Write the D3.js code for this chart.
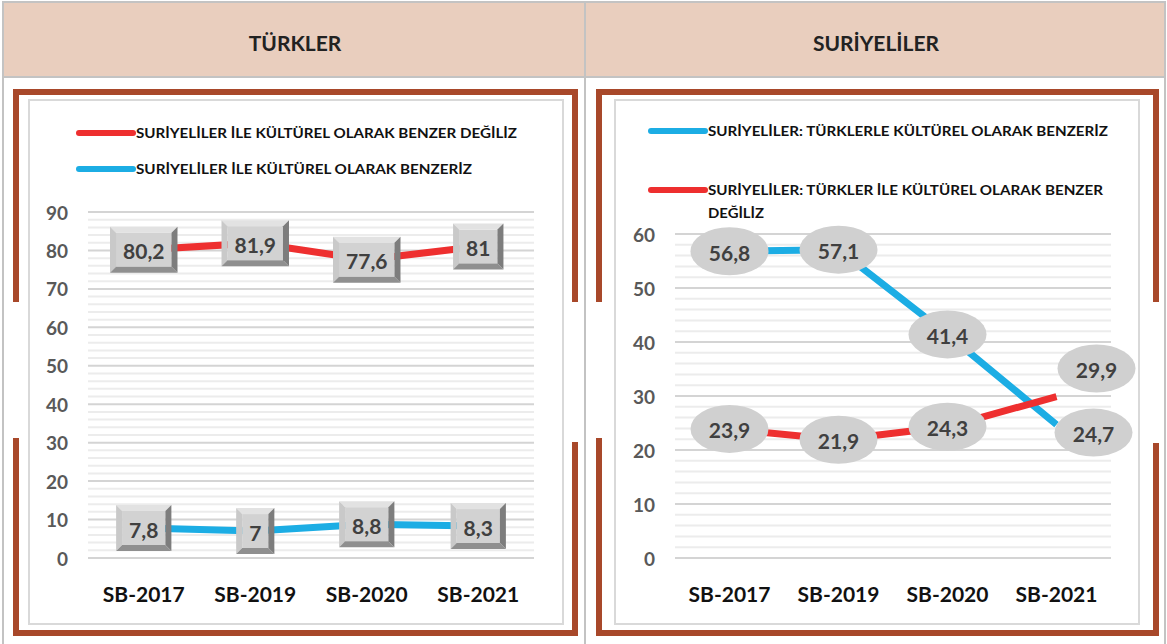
<!DOCTYPE html>
<html>
<head>
<meta charset="utf-8">
<script src="https://cdn.jsdelivr.net/npm/d3@7"></script>
<style>
body { margin: 0; background: #fff; }
svg text { font-family: Lato, "Open Sans", sans-serif; }
</style>
</head>
<body>
<svg width="1167" height="644"></svg>
<script>
// --- data ---
var years = ["SB-2017", "SB-2019", "SB-2020", "SB-2021"];
var trDegiliz = [80.2, 81.9, 77.6, 81];
var trBenzeriz = [7.8, 7, 8.8, 8.3];
var syBenzeriz = [56.8, 57.1, 41.4, 24.7];
var syDegiliz = [23.9, 21.9, 24.3, 29.9];
var trTicks = [0, 10, 20, 30, 40, 50, 60, 70, 80, 90];
var syTicks = [0, 10, 20, 30, 40, 50, 60];
var titles = ["TÜRKLER", "SURİYELİLER"];

var RED = "#ee2f2f", BLUE = "#1cade4", BROWN = "#a8482a";

var svg = d3.select("svg");

// header / table
svg.append("rect").attr("x", 4).attr("y", 3).attr("width", 580).attr("height", 73).attr("fill", "#e9cebe");
svg.append("rect").attr("x", 586).attr("y", 3).attr("width", 578).attr("height", 73).attr("fill", "#e9cebe");
svg.append("rect").attr("x", 3).attr("y", 2).attr("width", 1162).attr("height", 645)
  .attr("fill", "none").attr("stroke", "#c3c3c3").attr("stroke-width", 2);
svg.append("line").attr("x1", 3).attr("x2", 1165).attr("y1", 77).attr("y2", 77).attr("stroke", "#c3c3c3").attr("stroke-width", 2);
svg.append("line").attr("x1", 585).attr("x2", 585).attr("y1", 2).attr("y2", 644).attr("stroke", "#c3c3c3").attr("stroke-width", 2);

svg.selectAll(".title").data(titles).enter().append("text")
  .attr("x", function(d, i) { return i ? 876 : 295; })
  .attr("y", 42)
  .attr("text-anchor", "middle").attr("dominant-baseline", "central")
  .style("font-size", "21px").style("font-weight", "bold").attr("fill", "#222")
  .text(function(d) { return d; });

// brown frames with gaps on the sides
function frame(x0, x1, rightGapEnd, leftGapEnd) {
  var t = 6;
  var pieces = [
    [x0, 89, x1 - x0, t],
    [x0, 89, t, 213],
    [x1 - t, 89, t, 213],
    [x0, leftGapEnd, t, 636 - leftGapEnd],
    [x1 - t, rightGapEnd, t, 636 - rightGapEnd],
    [x0, 630, x1 - x0, t]
  ];
  pieces.forEach(function(p) {
    svg.append("rect").attr("x", p[0]).attr("y", p[1]).attr("width", p[2]).attr("height", p[3]).attr("fill", BROWN);
  });
}
frame(13, 578, 442, 438);
frame(596, 1159, 443, 438);

svg.append("rect").attr("x", 29).attr("y", 100).attr("width", 534).attr("height", 524)
  .attr("fill", "none").attr("stroke", "#d9d9d9").attr("stroke-width", 2);
svg.append("rect").attr("x", 615).attr("y", 100).attr("width", 524).attr("height", 524)
  .attr("fill", "none").attr("stroke", "#d9d9d9").attr("stroke-width", 2);

function fmt(v) { return String(v).replace(".", ","); }

function drawChart(cfg) {
  var g = svg.append("g");
  var x = d3.scalePoint().domain(years).range([cfg.left, cfg.right]).padding(0.5);
  var y = d3.scaleLinear().domain([0, d3.max(cfg.ticks)]).range([558, cfg.top]);

  // minor grid every 2 units
  var minor = d3.range(0, d3.max(cfg.ticks), 2).filter(function(v) { return v % 10 !== 0; });
  g.selectAll(".minor").data(minor).enter().append("line")
    .attr("x1", cfg.left).attr("x2", cfg.right)
    .attr("y1", function(d) { return y(d); }).attr("y2", function(d) { return y(d); })
    .attr("stroke", "#ececec").attr("stroke-width", 2);
  g.selectAll(".major").data(cfg.ticks).enter().append("line")
    .attr("x1", cfg.left).attr("x2", cfg.right)
    .attr("y1", function(d) { return y(d); }).attr("y2", function(d) { return y(d); })
    .attr("stroke", "#d4d4d4").attr("stroke-width", 2);

  g.selectAll(".ytick").data(cfg.ticks).enter().append("text")
    .attr("x", cfg.left - 20).attr("y", function(d) { return y(d); })
    .attr("text-anchor", "end").attr("dominant-baseline", "central")
    .style("font-size", "19px").style("font-weight", "bold").attr("fill", "#595959")
    .text(function(d) { return d; });

  g.selectAll(".xtick").data(years).enter().append("text")
    .attr("x", function(d) { return x(d); }).attr("y", 593)
    .attr("text-anchor", "middle").attr("dominant-baseline", "central")
    .style("font-size", "21px").style("font-weight", "bold").attr("fill", "#111")
    .text(function(d) { return d; });

  // legend
  cfg.series.forEach(function(s) {
    g.append("line").attr("x1", cfg.legX).attr("x2", cfg.legX + 54)
      .attr("y1", s.legY).attr("y2", s.legY)
      .attr("stroke", s.color).attr("stroke-width", 6).attr("stroke-linecap", "round");
    s.legend.forEach(function(l, i) {
      g.append("text").attr("x", cfg.legX + 57).attr("y", s.legY + i * 23)
        .attr("dominant-baseline", "central")
        .attr("textLength", l.w).attr("lengthAdjust", "spacingAndGlyphs")
        .style("font-size", "13.5px").style("font-weight", "bold").attr("fill", "#111")
        .text(l.t);
    });
  });

  var line = d3.line()
    .x(function(d, i) { return x(years[i]); })
    .y(function(d) { return y(d); });

  cfg.series.slice().sort(function(a, b) { return a.z - b.z; }).forEach(function(s) {
    g.append("path").datum(s.values).attr("d", line)
      .attr("fill", "none").attr("stroke", s.color).attr("stroke-width", 7);
  });

  cfg.series.forEach(function(s) {
    s.values.forEach(function(v, i) {
      var nudge = (s.nudge && s.nudge[i]) || [0, 0];
      var cx = x(years[i]) + nudge[0], cy = y(v) + nudge[1];
      var lg = g.append("g");
      var txt = lg.append("text").attr("x", cx).attr("y", cy + 1)
        .attr("text-anchor", "middle").attr("dominant-baseline", "central")
        .style("font-size", "21px").style("font-weight", "bold").attr("fill", "#404040")
        .text(fmt(v));
      if (cfg.shape === "ellipse") {
        lg.insert("ellipse", "text").attr("cx", cx).attr("cy", cy)
          .attr("rx", 39).attr("ry", 24).attr("fill", "#d0d0d0");
      } else {
        var tw = txt.node().getComputedTextLength();
        var w = tw + 26, h = 46, b = 6;
        var x0 = cx - w / 2, y0 = cy - h / 2, x1 = x0 + w, y1 = y0 + h;
        var bevel = [
          { c: "#e2e2e2", p: [[x0, y0], [x1, y0], [x1 - b, y0 + b], [x0 + b, y0 + b]] },
          { c: "#c9c9c9", p: [[x0, y0], [x0 + b, y0 + b], [x0 + b, y1 - b], [x0, y1]] },
          { c: "#7d7d7d", p: [[x1, y0], [x1, y1], [x1 - b, y1 - b], [x1 - b, y0 + b]] },
          { c: "#8f8f8f", p: [[x0, y1], [x0 + b, y1 - b], [x1 - b, y1 - b], [x1, y1]] }
        ];
        lg.insert("rect", "text").attr("x", x0 + b).attr("y", y0 + b)
          .attr("width", w - 2 * b).attr("height", h - 2 * b).attr("fill", "#d2d2d2");
        bevel.forEach(function(bv) {
          lg.insert("polygon", "text").attr("points", bv.p.map(function(q) { return q.join(","); }).join(" "))
            .attr("fill", bv.c);
        });
      }
    });
  });
}

drawChart({
  left: 88, right: 534, top: 212, ticks: trTicks, shape: "box", legX: 79,
  series: [
    { values: trDegiliz, color: RED, z: 1, legY: 133,
      legend: [{ t: "SURİYELİLER İLE KÜLTÜREL OLARAK BENZER DEĞİLİZ", w: 381 }] },
    { values: trBenzeriz, color: BLUE, z: 0, legY: 169,
      legend: [{ t: "SURİYELİLER İLE KÜLTÜREL OLARAK BENZERİZ", w: 336 }] }
  ]
});

drawChart({
  left: 675, right: 1111, top: 234, ticks: syTicks, shape: "ellipse", legX: 651,
  series: [
    { values: syBenzeriz, color: BLUE, z: 0, legY: 131, nudge: { 3: [37, 8] },
      legend: [{ t: "SURİYELİLER: TÜRKLERLE KÜLTÜREL OLARAK BENZERİZ", w: 400 }] },
    { values: syDegiliz, color: RED, z: 1, legY: 190, nudge: { 3: [40, -28] },
      legend: [{ t: "SURİYELİLER: TÜRKLER İLE KÜLTÜREL OLARAK BENZER", w: 395 }, { t: "DEĞİLİZ", w: 56 }] }
  ]
});
</script>
</body>
</html>
